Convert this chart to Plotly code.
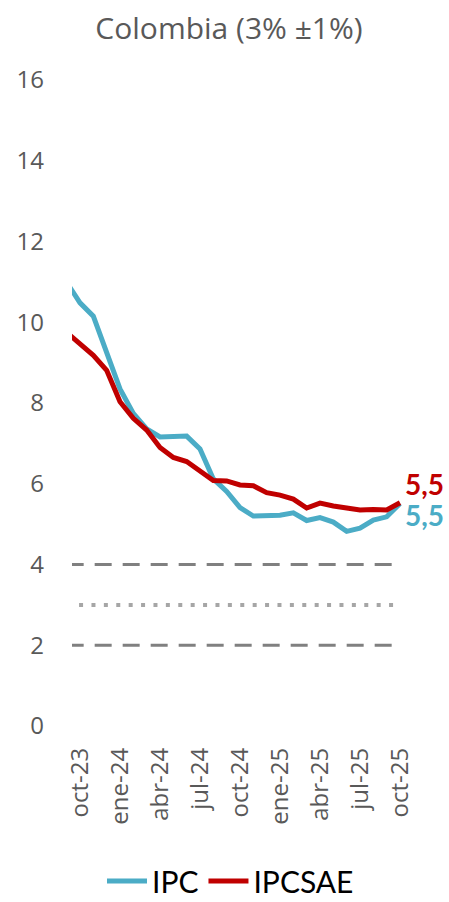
import plotly.graph_objects as go

months = ["sep-23", "oct-23", "nov-23", "dic-23", "ene-24", "feb-24", "mar-24", "abr-24",
          "may-24", "jun-24", "jul-24", "ago-24", "sep-24", "oct-24", "nov-24", "dic-24",
          "ene-25", "feb-25", "mar-25", "abr-25", "may-25", "jun-25", "jul-25", "ago-25",
          "sep-25", "oct-25"]
ipc = [10.99, 10.48, 10.15, 9.28, 8.35, 7.74, 7.36, 7.16, 7.16, 7.18, 6.86, 6.12, 5.81,
       5.41, 5.20, 5.20, 5.22, 5.28, 5.09, 5.16, 5.05, 4.82, 4.90, 5.10, 5.18, 5.51]
ipcsae = [9.75, 9.47, 9.18, 8.81, 8.03, 7.62, 7.33, 6.90, 6.65, 6.55, 6.32, 6.08, 6.07,
          5.97, 5.95, 5.78, 5.72, 5.62, 5.40, 5.52, 5.45, 5.39, 5.35, 5.36, 5.35, 5.53]
tick_months = ["oct-23", "ene-24", "abr-24", "jul-24", "oct-24", "ene-25", "abr-25",
               "jul-25", "oct-25"]
y_ticks = [0, 2, 4, 6, 8, 10, 12, 14, 16]
band_upper = 4
band_target = 3
band_lower = 2

BLUE = "#4BACC6"
RED = "#C00000"
GRAY = "#595959"

fig = go.Figure()
fig.add_trace(go.Scatter(x=months, y=[band_upper] * len(months), mode="lines",
                         line=dict(color="#808080", width=3, dash="17px,11px"),
                         showlegend=False, hoverinfo="skip"))
fig.add_trace(go.Scatter(x=months, y=[band_lower] * len(months), mode="lines",
                         line=dict(color="#808080", width=3, dash="17px,11px"),
                         showlegend=False, hoverinfo="skip"))
fig.add_trace(go.Scatter(x=months, y=[band_target] * len(months), mode="lines",
                         line=dict(color="#A6A6A6", width=4, dash="4px,8.4px"),
                         showlegend=False, hoverinfo="skip"))
fig.add_trace(go.Scatter(x=months, y=ipc, mode="lines", name="IPC",
                         line=dict(color=BLUE, width=5)))
fig.add_trace(go.Scatter(x=months, y=ipcsae, mode="lines", name="IPCSAE",
                         line=dict(color=RED, width=5)))

def fmt(v):
    return f"{v:.1f}".replace(".", ",")

fig.add_annotation(x=months[-1], y=ipcsae[-1], text=fmt(ipcsae[-1]), showarrow=False,
                   xanchor="left", yanchor="middle", xshift=3, yshift=19,
                   font=dict(family="Lato", size=28, color=RED, weight="bold"))
fig.add_annotation(x=months[-1], y=ipc[-1], text=fmt(ipc[-1]), showarrow=False,
                   xanchor="left", yanchor="middle", xshift=3, yshift=-11,
                   font=dict(family="Lato", size=28, color=BLUE, weight="bold"))

fig.update_layout(
    width=449, height=902,
    margin=dict(l=72, r=45, t=80, b=176, autoexpand=False),
    paper_bgcolor="white", plot_bgcolor="white",
    title=dict(text="Colombia (3% ±1%)", x=0.51, xanchor="center", y=1 - 28 / 902,
               yanchor="middle", yref="container",
               font=dict(family="Open Sans", size=30, color=GRAY)),
    xaxis=dict(type="category", categoryorder="array", categoryarray=months,
               range=[0.4, 25.3], tickmode="array", tickvals=tick_months,
               ticktext=tick_months, tickangle=-90, showgrid=False, zeroline=False,
               showline=False, ticks="", ticklabelstandoff=16, automargin=False,
               tickfont=dict(family="Open Sans", size=24, color=GRAY)),
    yaxis=dict(range=[0, 16], tickmode="array", tickvals=y_ticks, showgrid=False,
               zeroline=False, showline=False, ticks="", ticklabelstandoff=27,
               automargin=False,
               tickfont=dict(family="Open Sans", size=24, color=GRAY)),
    legend=dict(orientation="h", xref="container", yref="container",
                x=102 / 449, xanchor="left", y=1 - 881 / 902, yanchor="middle",
                font=dict(family="Lato", size=30, color="#000000"),
                itemwidth=40, tracegroupgap=0, maxheight=100),
    showlegend=True,
)

fig.write_html("out.html", config={"displayModeBar": False},
               post_script="document.body.style.margin='0';document.body.style.overflow='hidden';")
